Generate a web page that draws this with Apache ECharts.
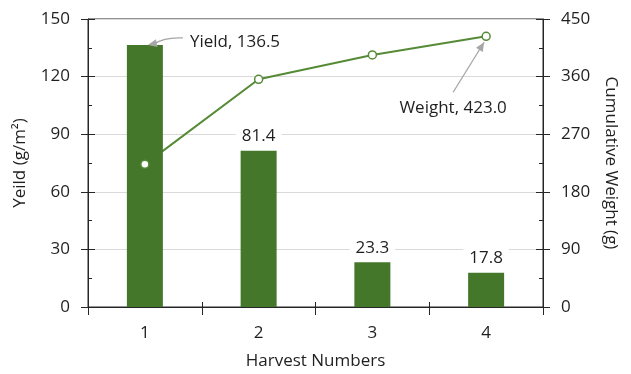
<!DOCTYPE html>
<html>
<head>
<meta charset="utf-8">
<script src="https://cdn.jsdelivr.net/npm/echarts@6/dist/echarts.min.js"></script>
<style>
  html, body { margin: 0; padding: 0; background: #fff; }
  #chart { width: 631px; height: 374px; }
</style>
</head>
<body>
<div id="chart"></div>
<script>
// Harvest data
const categories = ['1', '2', '3', '4'];
const yieldValues = [136.5, 81.4, 23.3, 17.8];        // g/m²
const weightValues = [222.9, 355.8, 393.9, 423.0];    // cumulative g
const yieldAxis = { min: 0, max: 150, interval: 30 };
const weightAxis = { min: 0, max: 450, interval: 90 };

const FONT = '"Open Sans", sans-serif';
const TEXT = '#1f1f1f';
const AXIS = '#262626';
const BAR = '#44772a';
const LINE = '#558a36';
const ARROW = '#a6a6a6';

const chart = echarts.init(document.getElementById('chart'), null, { renderer: 'canvas' });

const valueAxisBase = (range, pos, name, rotate, gap) => ({
  type: 'value',
  position: pos,
  min: range.min, max: range.max, interval: range.interval,
  name: name,
  nameLocation: 'middle',
  nameGap: gap,
  nameRotate: rotate,
  nameTextStyle: { color: TEXT, fontFamily: FONT, fontSize: 17 },
  axisLine: { show: true, lineStyle: { color: AXIS, width: 1 } },
  axisTick: { show: true, inside: false, length: 7, lineStyle: { color: AXIS } },
  axisLabel: { color: TEXT, fontFamily: FONT, fontSize: 17, margin: 18 },
  splitLine: { show: false }
});

// tick overlay: inner half of major ticks plus minor ticks
const tickOverlay = (range, pos) => ({
  type: 'value',
  position: pos,
  min: range.min, max: range.max, interval: range.interval,
  axisLine: { show: false },
  axisLabel: { show: false },
  axisTick: { show: true, inside: true, length: 7, lineStyle: { color: AXIS } },
  minorTick: { show: true, splitNumber: 2, length: 4, lineStyle: { color: AXIS } },
  splitLine: { show: false }
});

const leftAxis = valueAxisBase(yieldAxis, 'left', 'Yeild (g/m²)', 90, 59);
leftAxis.splitLine = { show: true, lineStyle: { color: '#d9d9d9', width: 1 } };
const rightAxis = valueAxisBase(weightAxis, 'right', 'Cumulative Weight (g)', -90, 59);

chart.setOption({
  animation: false,
  backgroundColor: '#fff',
  grid: {
    left: 88, right: 88, top: 19, bottom: 67,
    outerBoundsMode: 'none',
    containLabel: false,
    show: true, borderColor: AXIS, borderWidth: 1
  },
  xAxis: [
    {
      type: 'category',
      data: categories,
      name: 'Harvest Numbers',
      nameLocation: 'middle',
      nameGap: 46,
      nameTextStyle: { color: TEXT, fontFamily: FONT, fontSize: 17 },
      axisLine: { lineStyle: { color: AXIS } },
      axisTick: { show: true, length: 8, lineStyle: { color: AXIS } },
      axisLabel: { color: TEXT, fontFamily: FONT, fontSize: 17, margin: 18 }
    },
    {
      type: 'category',
      data: categories,
      position: 'bottom',
      axisLine: { show: false },
      axisLabel: { show: false },
      axisTick: { show: true, inside: true, length: 5, lineStyle: { color: AXIS } }
    }
  ],
  yAxis: [leftAxis, rightAxis, tickOverlay(yieldAxis, 'left'), tickOverlay(weightAxis, 'right')],
  series: [
    {
      // connecting line, drawn beneath the bars
      type: 'line',
      yAxisIndex: 1,
      data: weightValues,
      symbol: 'none',
      lineStyle: { color: LINE, width: 2 },
      z: 1
    },
    {
      name: 'Yield',
      type: 'bar',
      yAxisIndex: 0,
      barWidth: 36,
      data: yieldValues.map((v, i) => i === 0 ? { value: v, label: { show: false } } : v),
      itemStyle: { color: BAR },
      label: {
        show: true,
        position: 'top',
        distance: 5,
        formatter: p => p.value.toFixed(1),
        color: TEXT,
        fontFamily: FONT,
        fontSize: 17,
        backgroundColor: '#fff',
        padding: [1, 6]
      },
      z: 2
    },
    {
      // markers of the cumulative weight
      name: 'Weight',
      type: 'line',
      yAxisIndex: 1,
      data: weightValues,
      symbol: 'circle',
      symbolSize: 8,
      showSymbol: true,
      lineStyle: { width: 0, opacity: 0 },
      itemStyle: { color: '#fff', borderColor: LINE, borderWidth: 1.5 },
      z: 3
    }
  ]
});

// Callout annotations with arrows
function arrowHead(tip, from, len, half) {
  const dx = tip[0] - from[0], dy = tip[1] - from[1];
  const d = Math.hypot(dx, dy) || 1;
  const ux = dx / d, uy = dy / d;
  const bx = tip[0] - ux * len, by = tip[1] - uy * len;
  return {
    type: 'polygon',
    shape: { points: [tip, [bx - uy * half, by + ux * half], [bx + uy * half, by - ux * half]] },
    style: { fill: ARROW },
    z: 10
  };
}

const yTop = chart.convertToPixel({ seriesIndex: 1 }, [0, yieldValues[0]]);
const wEnd = chart.convertToPixel({ seriesIndex: 2 }, [3, weightValues[3]]);

const yTip = [yTop[0] + 3, yTop[1]];
const yTail = [yTop[0] + 38, yTop[1] - 7];
const yCtrl = [yTop[0] + 20, yTop[1] - 8];

const wTip = [wEnd[0] - 2, wEnd[1] + 6];
const wTail = [wEnd[0] - 33, wEnd[1] + 56];

chart.setOption({
  graphic: [
    {
      type: 'bezierCurve',
      shape: { x1: yTail[0], y1: yTail[1], x2: yTip[0] + 6, y2: yTip[1] - 1, cpx1: yCtrl[0], cpy1: yCtrl[1] },
      style: { stroke: ARROW, lineWidth: 1.3, fill: null },
      z: 10
    },
    arrowHead(yTip, [yTip[0] + 10, yTip[1] - 2], 9, 4),
    {
      type: 'text',
      x: yTop[0] + 45, y: yTop[1] - 3,
      style: { text: 'Yield, ' + yieldValues[0].toFixed(1), fill: TEXT, font: '17px ' + FONT, textAlign: 'left', textVerticalAlign: 'middle' },
      z: 10
    },
    {
      type: 'line',
      shape: { x1: wTail[0], y1: wTail[1], x2: wTip[0], y2: wTip[1] },
      style: { stroke: ARROW, lineWidth: 1.3 },
      z: 10
    },
    arrowHead(wTip, wTail, 9, 4),
    {
      type: 'text',
      x: wEnd[0] - 33, y: wEnd[1] + 72,
      style: { text: 'Weight, ' + weightValues[3].toFixed(1), fill: TEXT, font: '17px ' + FONT, textAlign: 'center', textVerticalAlign: 'middle', backgroundColor: '#fff' },
      z: 10
    }
  ]
});
</script>
</body>
</html>
